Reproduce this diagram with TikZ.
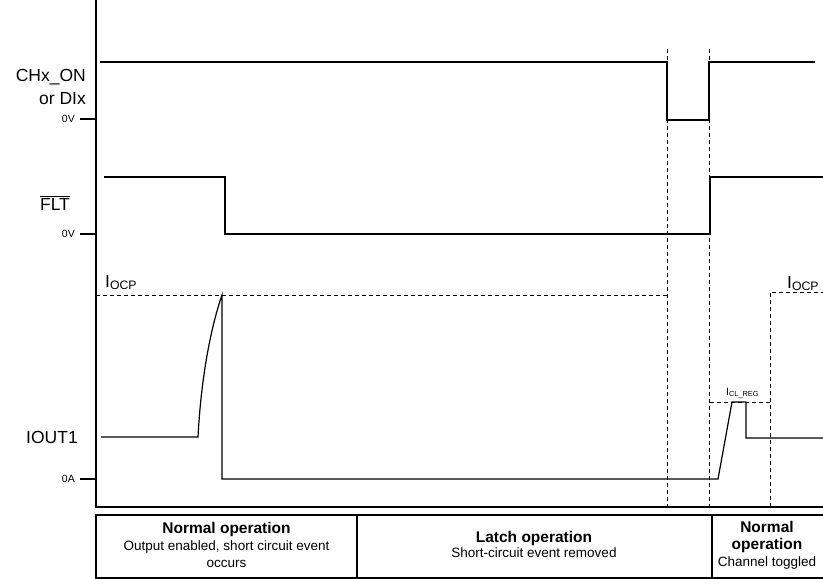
\documentclass[tikz,border=0pt]{standalone}
\usepackage{fontspec}
\setmainfont{Liberation Sans}
\begin{document}
\begin{tikzpicture}[x=1pt,y=-1pt,
  sig/.style={line width=1.2pt},
  axisline/.style={line width=2pt},
  guide/.style={line width=0.9pt, dash pattern=on 4pt off 3pt},
  biglbl/.style={font=\fontsize{17.5}{20}\selectfont, inner sep=0pt},
  smalllbl/.style={font=\fontsize{10.5}{12}\selectfont, inner sep=0pt, anchor=east},
  title/.style={font=\fontsize{15.5}{18}\selectfont\bfseries, inner sep=0pt},
  sub/.style={font=\fontsize{13.5}{16}\selectfont, inner sep=0pt},
]
\useasboundingbox (0,0) rectangle (823,579);

% axes
\draw[axisline] (96,0) -- (96,507) -- (823,507);
\draw[axisline] (80,119) -- (96,119);
\draw[axisline] (80,234) -- (96,234);
\draw[axisline] (80,479) -- (96,479);

% guides
\draw[guide] (96,295) -- (667,295);
\draw[guide] (667,49) -- (667,507);
\draw[guide] (709,49) -- (709,507);
\draw[guide] (710,402) -- (770,402);
\draw[guide] (770,507) -- (770,292) -- (823,292);

% signals
\draw[sig] (100,62) -- (667,62) -- (667,120) -- (709,120) -- (709,62) -- (815,62);
\draw[sig] (104,177) -- (225,177) -- (225,234) -- (710,234) -- (710,177) -- (823,177);
\draw[sig] (101,437) -- (198,437) .. controls (201,380) and (210,330) .. (222,295)
  -- (222,479) -- (718,479) -- (732,402) -- (746,402) -- (746,438) -- (823,438);

% phase boxes
\draw[axisline] (823,515) -- (96,515) -- (96,578) -- (823,578);
\draw[axisline] (357,515) -- (357,578);
\draw[axisline] (712,515) -- (712,578);

% labels
\node[biglbl, anchor=east] (chx) at (86,77) {CHx\_ON};
\node[biglbl, anchor=east] (dix) at (86,99) {or DIx};
\node[smalllbl] (zv1) at (75,119) {0V};
\node[biglbl] (flt) at (55,203) {$\overline{\hbox{FLT}}$};
\node[smalllbl] (zv2) at (75,234) {0V};
\node[biglbl] (iout) at (52,437) {IOUT1};
\node[smalllbl] (za) at (75,479) {0A};
\node[biglbl, anchor=base west] (iocp1) at (105,287) {I\textsubscript{OCP}};
\node[biglbl, anchor=base west] (iocp2) at (787,288) {I\textsubscript{OCP}};
\node[font=\fontsize{10.5}{12}\selectfont, inner sep=0pt, anchor=base west] (iclreg) at (726,395) {I\textsubscript{CL\_REG}};

% phase texts
\node[title] (p1t) at (226.5,529) {Normal operation};
\node[sub] (p1a) at (226.5,547) {Output enabled, short circuit event};
\node[sub] (p1b) at (226.5,564) {occurs};
\node[title] (p2t) at (534,538) {Latch operation};
\node[sub] (p2a) at (534,553) {Short-circuit event removed};
\node[title] (p3t) at (767,527) {Normal};
\node[title] (p3a) at (767,545) {operation};
\node[sub] (p3b) at (767,563) {Channel toggled};
\end{tikzpicture}
\end{document}
